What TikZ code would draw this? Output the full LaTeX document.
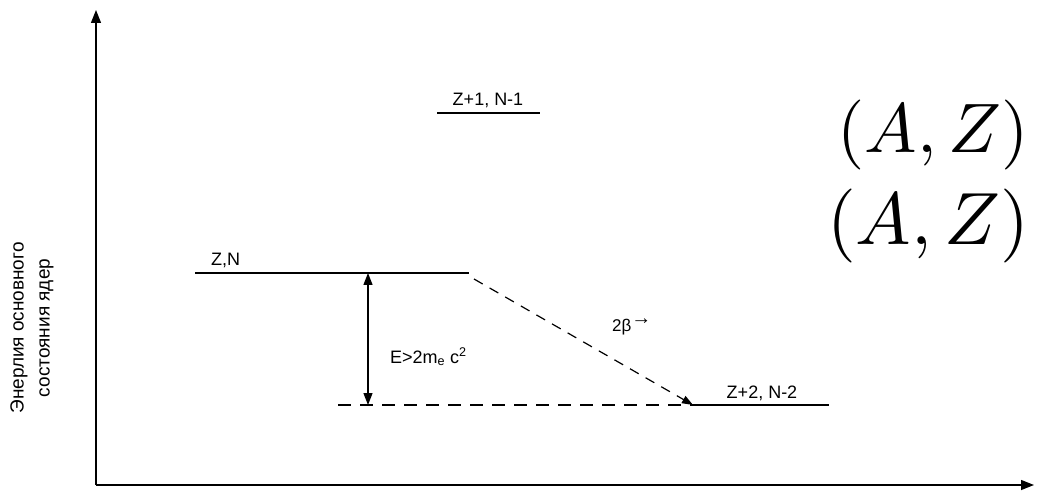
\documentclass[tikz,border=0pt]{standalone}
\usepackage{fontspec}
\newfontfamily\arialf{Liberation Sans}
\usetikzlibrary{arrows.meta}
\tikzset{
  level/.style={line width=1.4pt},
  axis/.style={line width=1.4pt,-{Triangle[length=13pt,width=10pt]}},
  lbl/.style={font=\arialf\fontsize{18}{20}\selectfont,inner sep=0pt},
  big/.style={inner sep=0pt},
  dashline/.style={line width=1.3pt,dash pattern=on 13pt off 9pt},
}
\begin{document}
\begin{tikzpicture}[x=1pt,y=-1pt]
\useasboundingbox[fill=white] (0,0) rectangle (1039,494);
% axes
\coordinate (O) at (96,485);
\coordinate (ytop) at (96,10);
\coordinate (xend) at (1034,485);
\draw[axis] (O) -- (ytop);
\draw[axis] (O) -- (xend);
% y label
\node[lbl,rotate=90,align=center,font=\arialf\fontsize{19}{26}\selectfont] (ylab) at (32,328) {Энерлия основного\\состояния ядер};
% levels
\coordinate (u1) at (437,113); \coordinate (u2) at (540,113);
\draw[level] (u1) -- (u2);
\node[lbl,anchor=base] (tu) at (488,106) {Z+1, N-1};
\coordinate (a1) at (195,273); \coordinate (a2) at (469,273);
\draw[level] (a1) -- (a2);
\node[lbl,anchor=base west] (ta) at (211,266) {Z,N};
\coordinate (b1) at (693,405); \coordinate (b2) at (829,405);
\draw[level] (b1) -- (b2);
\node[lbl,anchor=base] (tb) at (762,398) {Z+2, N-2};
\coordinate (d1) at (338,405);
\draw[dashline] (d1) -- (b1);
% energy gap arrow
\coordinate (g1) at (368,273); \coordinate (g2) at (368,405);
\draw[line width=1.3pt,{Triangle[length=12pt,width=9pt]}-{Triangle[length=12pt,width=9pt]}] (g1) -- (g2);
\node[lbl,anchor=base west] (te) at (390,363) {E>2m\textsubscript{e} c\textsuperscript{2}};
% decay arrow
\coordinate (s1) at (474,279);
\draw[line width=1.2pt,dash pattern=on 10pt off 8pt,-{Triangle[length=11pt,width=8pt]}] (s1) -- (b1);
\node[lbl,anchor=base west,font=\arialf\fontsize{17}{20}\selectfont] (tbeta) at (612,331) {2β\textsuperscript{\fontsize{20}{20}\selectfont →}};
% (A,Z)
\node[big,scale=7] (az1) at (933,135) {$(A,Z)$};
\node[big,scale=7.4] (az2) at (928,226) {$(A,Z)$};
\end{tikzpicture}
\end{document}
